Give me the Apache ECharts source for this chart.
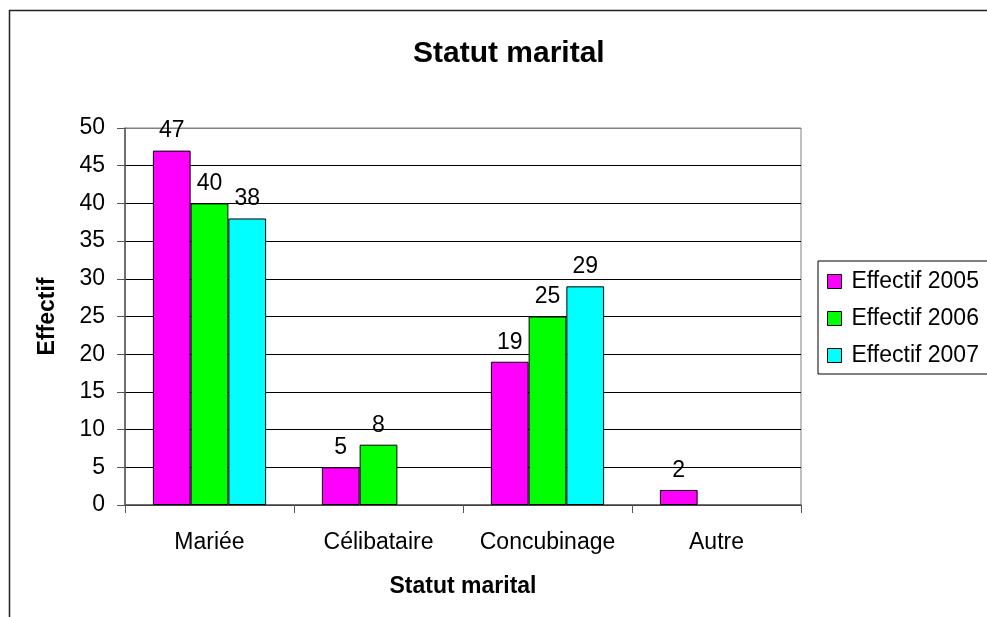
<!DOCTYPE html>
<html lang="fr">
<head>
	<meta charset="UTF-8">
	<title>Statut marital</title>
	<script src="https://cdn.jsdelivr.net/npm/echarts@6/dist/echarts.min.js"></script>
	<style>
		html, body{
			margin: 0;
			padding: 0;
			background: #fff;
		}
		#main{
			width: 987px;
			height: 617px;
		}
	</style>
</head>
<body>
	<div id="main"></div>
</body>
<script>
	// données
	let categories = ['Mariée', 'Célibataire', 'Concubinage', 'Autre'];
	let eff2005 = [47, 5, 19, 2];
	let eff2006 = [40, 8, 25, '-'];
	let eff2007 = [38, '-', 29, '-'];
	let seriesNames = ['Effectif 2005', 'Effectif 2006', 'Effectif 2007'];
	let colors = ['#ff00ff', '#00ff00', '#00ffff'];

	let font = '"Liberation Sans", Arial, sans-serif';
	let fs = 23;
	let myChart = echarts.init(document.getElementById('main'));

	// la ligne du haut (50) est grise comme le cadre
	let splitColors = [];
	for(let i = 0; i < 10; i++) splitColors.push('#000');
	splitColors.push('#808080');

	function makeSeries(name, data, color){
		return {
			name: name,
			type: 'bar',
			data: data,
			barGap: 0,
			barCategoryGap: '33%',
			itemStyle: {
				color: color,
				borderColor: '#000',
				borderWidth: 1
			},
			label: {
				show: true,
				position: 'top',
				distance: 8,
				color: '#000',
				fontFamily: font,
				fontSize: fs
			}
		};
	}

	myChart.setOption({
		backgroundColor: '#fff',
		animation: false,
		textStyle: {fontFamily: font},
		title: {
			text: 'Statut marital',
			left: 408,
			top: 34,
			textStyle: {
				fontFamily: font,
				fontSize: 30,
				fontWeight: 'bold',
				color: '#000'
			}
		},
		legend: {
			orient: 'vertical',
			left: 818,
			top: 261,
			padding: [9, 60, 7, 9],
			itemWidth: 14,
			itemHeight: 14,
			itemGap: 14,
			borderColor: '#000',
			borderWidth: 1,
			icon: 'rect',
			itemStyle: {borderColor: '#000', borderWidth: 1},
			textStyle: {
				fontFamily: font,
				fontSize: fs,
				lineHeight: 23,
				color: '#000',
				padding: [0, 0, 0, 5]
			},
			data: seriesNames
		},
		grid: {
			left: 125,
			top: 128,
			right: 186,
			bottom: 112,
			show: true,
			borderColor: '#808080',
			borderWidth: 1,
			backgroundColor: '#fff'
		},
		xAxis: {
			type: 'category',
			data: categories,
			name: 'Statut marital',
			nameLocation: 'middle',
			nameGap: 70,
			nameTextStyle: {
				fontFamily: font,
				fontSize: fs,
				fontWeight: 'bold',
				color: '#000'
			},
			axisLine: {lineStyle: {color: '#555', width: 1.5}},
			axisTick: {show: true, interval: 0, length: 8, lineStyle: {color: '#555'}},
			axisLabel: {
				interval: 0,
				hideOverlap: false,
				margin: 26,
				fontFamily: font,
				fontSize: fs,
				color: '#000'
			}
		},
		yAxis: {
			type: 'value',
			min: 0,
			max: 50,
			interval: 5,
			name: 'Effectif',
			nameLocation: 'middle',
			nameGap: 66,
			nameTextStyle: {
				fontFamily: font,
				fontSize: fs,
				fontWeight: 'bold',
				color: '#000'
			},
			axisLine: {show: true, lineStyle: {color: '#555', width: 1.5}},
			axisTick: {show: true, length: 8, lineStyle: {color: '#555'}},
			axisLabel: {
				margin: 20,
				fontFamily: font,
				fontSize: fs,
				color: '#000'
			},
			splitLine: {lineStyle: {color: splitColors, width: 1}}
		},
		graphic: [{
			type: 'rect',
			silent: true,
			z: 100,
			shape: {x: 9.5, y: 10.5, width: 2000, height: 2000},
			style: {fill: null, stroke: '#222', lineWidth: 1.5}
		}],
		series: [
			makeSeries(seriesNames[0], eff2005, colors[0]),
			makeSeries(seriesNames[1], eff2006, colors[1]),
			makeSeries(seriesNames[2], eff2007, colors[2])
		]
	});
</script>
</html>
